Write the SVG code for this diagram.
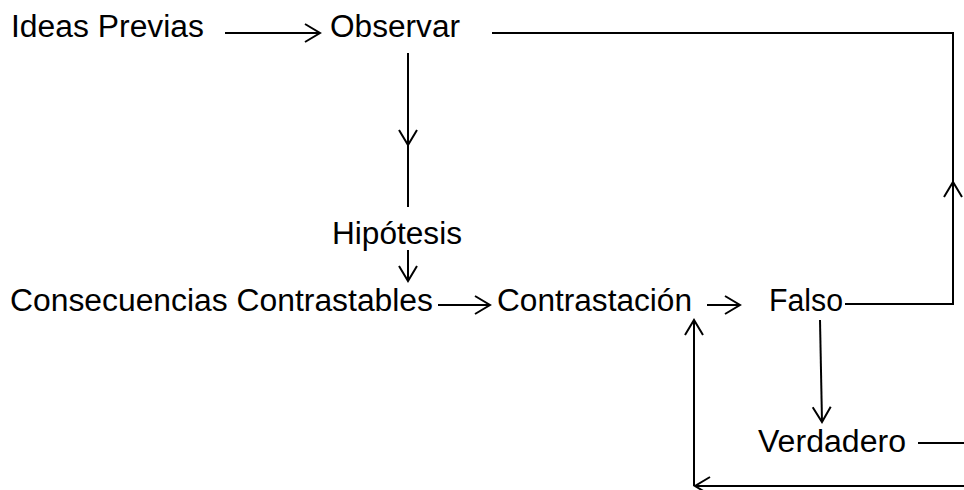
<svg xmlns="http://www.w3.org/2000/svg" width="964" height="490" viewBox="0 0 964 490">
  <style>
    .t { font-family: "Liberation Sans", Arial, sans-serif; font-size: 31px; fill: #000; }
    .c { fill: none; stroke: #000; stroke-width: 2; }
  </style>
  <defs>
    <marker id="ah" markerUnits="userSpaceOnUse" viewBox="-18 -11 20 22" refX="0" refY="0" markerWidth="20" markerHeight="22" orient="auto" overflow="visible">
      <path d="M-15,-9 L0,0 L-15,9" fill="none" stroke="#000" stroke-width="2"/>
    </marker>
  </defs>
  <rect width="964" height="490" fill="#fff"/>
  <g id="connectors">
    <line class="c" x1="225" y1="33" x2="320" y2="33" marker-end="url(#ah)"/>
    <line class="c" x1="408" y1="53" x2="408" y2="145" marker-end="url(#ah)"/>
    <line class="c" x1="408" y1="145" x2="408" y2="207"/>
    <line class="c" x1="408" y1="250" x2="408" y2="281" marker-end="url(#ah)"/>
    <line class="c" x1="438" y1="305" x2="490" y2="305" marker-end="url(#ah)"/>
    <line class="c" x1="707" y1="305" x2="740" y2="305" marker-end="url(#ah)"/>
    <path class="c" d="M845,304 L953,304 L953,182" marker-end="url(#ah)"/>
    <path class="c" d="M953,182 L953,33 L492,33"/>
    <line class="c" x1="820" y1="320" x2="822" y2="422" marker-end="url(#ah)"/>
    <line class="c" x1="918" y1="443" x2="964" y2="443"/>
    <path class="c" d="M964,486 L695,486" marker-end="url(#ah)"/>
    <path class="c" d="M694,486 L694,320" marker-end="url(#ah)"/>
  </g>
  <g id="ideas"><text class="t" x="11" y="37" textLength="193" lengthAdjust="spacingAndGlyphs">Ideas Previas</text></g>
  <g id="observar"><text class="t" x="330" y="37" textLength="130" lengthAdjust="spacingAndGlyphs">Observar</text></g>
  <g id="hipotesis"><text class="t" x="332" y="244" textLength="130" lengthAdjust="spacingAndGlyphs">Hipótesis</text></g>
  <g id="consecuencias"><text class="t" x="10" y="311" textLength="423" lengthAdjust="spacingAndGlyphs">Consecuencias Contrastables</text></g>
  <g id="contrastacion"><text class="t" x="497" y="311" textLength="195" lengthAdjust="spacingAndGlyphs">Contrastación</text></g>
  <g id="falso"><text class="t" x="769" y="311" textLength="74" lengthAdjust="spacingAndGlyphs">Falso</text></g>
  <g id="verdadero"><text class="t" x="758" y="452" textLength="148" lengthAdjust="spacingAndGlyphs">Verdadero</text></g>
</svg>
